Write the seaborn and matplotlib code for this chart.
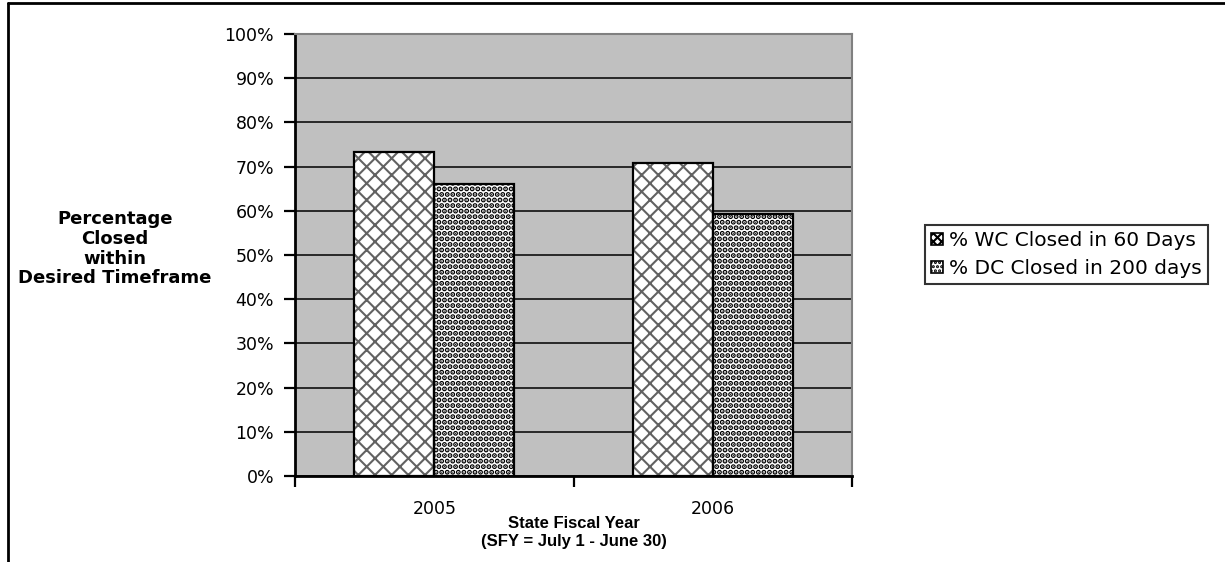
import matplotlib
matplotlib.use("Agg")
import matplotlib.pyplot as plt
from matplotlib.patches import Patch, Rectangle
from matplotlib.lines import Line2D
from matplotlib.ticker import PercentFormatter, FixedLocator
import seaborn as sns
import pandas as pd

# Data
years = ["2005", "2006"]
series = ["% WC Closed in 60 Days", "% DC Closed in 200 days"]
wc_closed = [0.733, 0.708]
dc_closed = [0.661, 0.593]

df = pd.DataFrame({
    "year": years * 2,
    "series": [series[0]] * len(years) + [series[1]] * len(years),
    "value": wc_closed + dc_closed,
})

sns.set_theme(style="white")
plt.rcParams["font.family"] = ["Liberation Sans", "DejaVu Sans"]
plt.rcParams["hatch.linewidth"] = 1.5
for key in ["text.color", "axes.labelcolor", "xtick.color", "ytick.color"]:
    plt.rcParams[key] = "black"

WIDE = "DejaVu Sans"

fig = plt.figure(figsize=(12.25, 5.62), dpi=100)
ax = fig.add_axes([295 / 1225, 1 - 476 / 562, (852 - 295) / 1225, (476 - 34) / 562])

sns.barplot(data=df, x="year", y="value", hue="series", order=years,
            hue_order=series, width=0.575, ax=ax, legend=False,
            saturation=1, zorder=3)

styles = [
    dict(hatch="xx", face="white", hatch_color="#626262", hatch_lw=1.5),
    dict(hatch="...", face="white", hatch_color="black", hatch_lw=2.6),
]
for cont, st in zip(ax.containers, styles):
    for bar in cont:
        bar.set_facecolor(st["face"])
        bar.set_edgecolor(st["hatch_color"])
        bar.set_hatch(st["hatch"])
        if hasattr(bar, "set_hatch_linewidth"):
            bar.set_hatch_linewidth(st["hatch_lw"])
        bar.set_linewidth(0)
        # crisp black outline on top of the hatched fill
        ax.add_patch(Rectangle(bar.get_xy(), bar.get_width(), bar.get_height(),
                               fill=False, edgecolor="black", linewidth=1.6,
                               zorder=4))

ax.set_facecolor("#c0c0c0")
ax.set_xlim(-0.5, 1.5)
ax.set_ylim(0, 1.0)
ax.yaxis.set_major_locator(FixedLocator([i / 10 for i in range(11)]))
ax.yaxis.set_major_formatter(PercentFormatter(1.0, decimals=0))
ax.grid(axis="y", color="black", linewidth=1.1, zorder=1)
ax.set_axisbelow(True)

for side in ["top", "right"]:
    ax.spines[side].set_color("#808080")
    ax.spines[side].set_linewidth(1.5)
for side in ["left", "bottom"]:
    ax.spines[side].set_color("black")
    ax.spines[side].set_linewidth(2)

ax.tick_params(axis="y", which="major", direction="out", length=8, width=1.6,
               color="black", labelcolor="black", pad=7, left=True)
ax.xaxis.set_minor_locator(FixedLocator([-0.5, 0.5, 1.5]))
ax.tick_params(axis="x", which="major", length=0, pad=17, labelcolor="black")
ax.tick_params(axis="x", which="minor", direction="out", length=8, width=1.6,
               color="black", bottom=True)
for lab in ax.get_yticklabels() + ax.get_xticklabels():
    lab.set_fontfamily(WIDE)
    lab.set_fontsize(12.5)

ax.set_ylabel("Percentage\nClosed\nwithin\nDesired Timeframe", rotation=0,
              fontsize=13, fontweight="bold", ha="center", va="center",
              linespacing=1.12, family=WIDE, color="black")
ax.yaxis.set_label_coords(-0.323, 0.514)
ax.set_xlabel("State Fiscal Year\n(SFY = July 1 - June 30)", fontsize=12,
              fontweight="bold", ha="center", va="center", linespacing=1.25,
              color="black")
ax.xaxis.set_label_coords(0.5, -0.127)

handles = [
    Patch(facecolor="white", edgecolor="black", hatch="xxxx", linewidth=1.2),
    Patch(facecolor="white", edgecolor="black", hatch="....", linewidth=1.2),
]
leg = fig.legend(handles, series, loc="upper left",
                 bbox_to_anchor=(925 / 1225, 1 - 225 / 562),
                 prop={"family": WIDE, "size": 14.5}, frameon=True,
                 fancybox=False, handlelength=0.6, handleheight=0.6,
                 handletextpad=0.3, borderpad=0.3, labelspacing=0.45,
                 borderaxespad=0)
leg.get_frame().set_edgecolor("black")
leg.get_frame().set_linewidth(1.5)
for t in leg.get_texts():
    t.set_color("black")

# outer frame edges along the top and left of the figure
fig.add_artist(Line2D([8 / 1225, 8 / 1225], [0, 1 - 3 / 562],
                      transform=fig.transFigure, color="black", linewidth=2))
fig.add_artist(Line2D([8 / 1225, 1], [1 - 3 / 562, 1 - 3 / 562],
                      transform=fig.transFigure, color="black", linewidth=2))

fig.savefig("out.png", dpi=100, facecolor="white")
